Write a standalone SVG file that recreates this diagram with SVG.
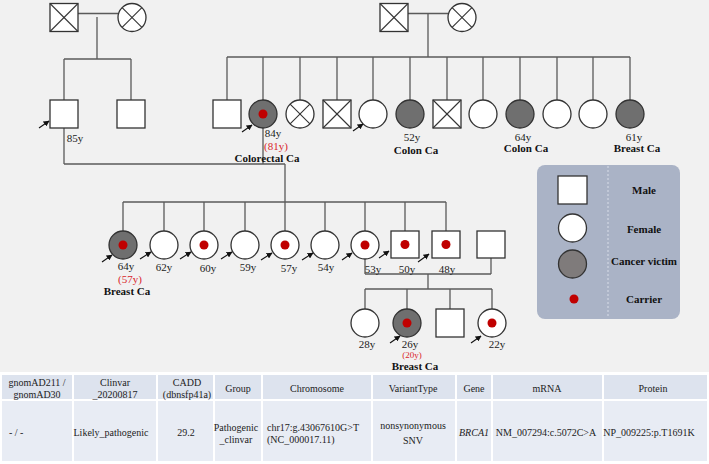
<svg xmlns="http://www.w3.org/2000/svg" width="709" height="464" viewBox="0 0 709 464">
<defs>
<style>
.bg{fill:#f1f1f1}
.ln{stroke:#5a5a5a;stroke-width:1.3;fill:none}
.m{fill:#fff;stroke:#333;stroke-width:1.3}
.f{fill:#fff;stroke:#333;stroke-width:1.3}
.ca{fill:#6f6f6f;stroke:#333;stroke-width:1.3}
.x{stroke:#333;stroke-width:1.1}
.dot{fill:#c00000}
.t{font-family:"Liberation Serif",serif;font-size:11px;fill:#222;text-anchor:middle}
.r{font-family:"Liberation Serif",serif;font-size:11px;fill:#d9262b;text-anchor:middle}
.b{font-family:"Liberation Serif",serif;font-size:11px;font-weight:bold;fill:#111;text-anchor:middle}
.lg{font-family:"Liberation Serif",serif;font-size:11px;font-weight:bold;fill:#111;text-anchor:middle}
.tb{font-family:"Liberation Serif",serif;font-size:10px;fill:#222;text-anchor:middle}
.arr{stroke:#111;stroke-width:1.1;marker-end:url(#ah)}
.hd{fill:#dde3ee}
.dt{fill:#e8ecf4}
</style>
<marker id="ah" viewBox="0 0 10 10" refX="9" refY="5" markerWidth="6" markerHeight="6" markerUnits="userSpaceOnUse" orient="auto">
<path d="M0,0 L10,5 L0,10 z" fill="#111"/>
</marker>
</defs>
<rect x="0" y="0" width="709" height="372" class="bg"/>
<rect x="0" y="372" width="709" height="92" fill="#ffffff"/>

<g id="connectors">
<line class="ln" x1="78" y1="13.5" x2="118" y2="13.5"/>
<line class="ln" x1="97" y1="17" x2="97" y2="59"/>
<line class="ln" x1="64" y1="59" x2="131" y2="59"/>
<line class="ln" x1="64" y1="59" x2="64" y2="100"/>
<line class="ln" x1="131" y1="59" x2="131" y2="100"/>
<line class="ln" x1="408" y1="13.5" x2="448" y2="13.5"/>
<line class="ln" x1="428" y1="13.5" x2="428" y2="57"/>
<line class="ln" x1="227" y1="57" x2="630" y2="57"/>
<line class="ln" x1="227" y1="57" x2="227" y2="100"/>
<line class="ln" x1="263" y1="57" x2="263" y2="100"/>
<line class="ln" x1="300" y1="57" x2="300" y2="100"/>
<line class="ln" x1="337" y1="57" x2="337" y2="100"/>
<line class="ln" x1="373" y1="57" x2="373" y2="100"/>
<line class="ln" x1="410" y1="57" x2="410" y2="100"/>
<line class="ln" x1="447" y1="57" x2="447" y2="100"/>
<line class="ln" x1="483" y1="57" x2="483" y2="100"/>
<line class="ln" x1="520" y1="57" x2="520" y2="100"/>
<line class="ln" x1="557" y1="57" x2="557" y2="100"/>
<line class="ln" x1="593" y1="57" x2="593" y2="100"/>
<line class="ln" x1="630" y1="57" x2="630" y2="100"/>
<line class="ln" x1="64" y1="128" x2="64" y2="164"/>
<line class="ln" x1="263" y1="128" x2="263" y2="164"/>
<line class="ln" x1="64" y1="164" x2="285" y2="164"/>
<line class="ln" x1="285" y1="164" x2="285" y2="202"/>
<line class="ln" x1="123" y1="202" x2="446" y2="202"/>
<line class="ln" x1="123" y1="202" x2="123" y2="231"/>
<line class="ln" x1="164" y1="202" x2="164" y2="231"/>
<line class="ln" x1="204" y1="202" x2="204" y2="231"/>
<line class="ln" x1="245" y1="202" x2="245" y2="231"/>
<line class="ln" x1="285" y1="202" x2="285" y2="231"/>
<line class="ln" x1="325" y1="202" x2="325" y2="231"/>
<line class="ln" x1="365" y1="202" x2="365" y2="231"/>
<line class="ln" x1="405" y1="202" x2="405" y2="231"/>
<line class="ln" x1="446" y1="202" x2="446" y2="231"/>
<line class="ln" x1="365" y1="259" x2="365" y2="274"/>
<line class="ln" x1="491" y1="258" x2="491" y2="274"/>
<line class="ln" x1="365" y1="274" x2="491" y2="274"/>
<line class="ln" x1="428" y1="274" x2="428" y2="289"/>
<line class="ln" x1="365" y1="289" x2="492" y2="289"/>
<line class="ln" x1="365" y1="289" x2="365" y2="309"/>
<line class="ln" x1="407" y1="289" x2="407" y2="309"/>
<line class="ln" x1="450" y1="289" x2="450" y2="309"/>
<line class="ln" x1="492" y1="289" x2="492" y2="309"/>
</g>

<g id="gen1-left-father"><rect class="m" x="50" y="3.5" width="28" height="28"/><line class="x" x1="50" y1="3.5" x2="78" y2="31.5"/><line class="x" x1="78" y1="3.5" x2="50" y2="31.5"/></g>
<g id="gen1-left-mother"><circle class="f" cx="132" cy="17.5" r="14"/><line class="x" x1="122.1" y1="7.6" x2="141.9" y2="27.4"/><line class="x" x1="141.9" y1="7.6" x2="122.1" y2="27.4"/></g>
<g id="gen1-right-father"><rect class="m" x="380" y="3.5" width="28" height="28"/><line class="x" x1="380" y1="3.5" x2="408" y2="31.5"/><line class="x" x1="408" y1="3.5" x2="380" y2="31.5"/></g>
<g id="gen1-right-mother"><circle class="f" cx="462" cy="17.5" r="14"/><line class="x" x1="452.1" y1="7.6" x2="471.9" y2="27.4"/><line class="x" x1="471.9" y1="7.6" x2="452.1" y2="27.4"/></g>

<g id="g2-85y"><rect class="m" x="50" y="100" width="28" height="28"/><line class="arr" x1="39" y1="128" x2="49" y2="121"/><text class="t" x="75" y="142">85y</text></g>
<g id="g2-brother"><rect class="m" x="117" y="100" width="28" height="28"/></g>
<g id="g2-s1"><rect class="m" x="213" y="100" width="28" height="28"/></g>
<g id="g2-84y"><circle class="ca" cx="263" cy="114" r="14"/><circle class="dot" cx="263" cy="114" r="4.5"/><line class="arr" x1="242" y1="132" x2="252" y2="125"/><text class="t" x="273" y="137">84y</text><text class="r" x="276" y="150">(81y)</text><text class="b" x="267" y="162">Colorectal Ca</text></g>
<g id="g2-s3"><circle class="f" cx="300" cy="114" r="14"/><line class="x" x1="290.1" y1="104.1" x2="309.9" y2="123.9"/><line class="x" x1="309.9" y1="104.1" x2="290.1" y2="123.9"/></g>
<g id="g2-s4"><rect class="m" x="323" y="100" width="28" height="28"/><line class="x" x1="323" y1="100" x2="351" y2="128"/><line class="x" x1="351" y1="100" x2="323" y2="128"/></g>
<g id="g2-s5"><circle class="f" cx="373" cy="114" r="14"/><line class="arr" x1="353" y1="131" x2="363" y2="124"/></g>
<g id="g2-52y"><circle class="ca" cx="410" cy="114" r="14"/><text class="t" x="412" y="141">52y</text><text class="b" x="416" y="154">Colon Ca</text></g>
<g id="g2-s7"><rect class="m" x="433" y="100" width="28" height="28"/><line class="x" x1="433" y1="100" x2="461" y2="128"/><line class="x" x1="461" y1="100" x2="433" y2="128"/></g>
<g id="g2-s8"><circle class="f" cx="483" cy="114" r="14"/></g>
<g id="g2-64y"><circle class="ca" cx="520" cy="114" r="14"/><text class="t" x="523" y="141">64y</text><text class="b" x="526" y="152">Colon Ca</text></g>
<g id="g2-s10"><circle class="f" cx="557" cy="114" r="14"/></g>
<g id="g2-s11"><circle class="f" cx="593" cy="114" r="14"/></g>
<g id="g2-61y"><circle class="ca" cx="630" cy="114" r="14"/><text class="t" x="634" y="141">61y</text><text class="b" x="637" y="152">Breast Ca</text></g>

<g id="g3-64y"><circle class="ca" cx="123" cy="245" r="14"/><circle class="dot" cx="123" cy="245" r="4.5"/><line class="arr" x1="102" y1="262" x2="112" y2="255"/><text class="t" x="126" y="270">64y</text><text class="r" x="130" y="283">(57y)</text><text class="b" x="127" y="295">Breast Ca</text></g>
<g id="g3-62y"><circle class="f" cx="164" cy="245" r="14"/><line class="arr" x1="140" y1="259" x2="151" y2="252"/><text class="t" x="164" y="271">62y</text></g>
<g id="g3-60y"><circle class="f" cx="204" cy="245" r="14"/><circle class="dot" cx="204" cy="245" r="4.5"/><line class="arr" x1="180" y1="259" x2="191" y2="252"/><text class="t" x="208" y="272">60y</text></g>
<g id="g3-59y"><circle class="f" cx="245" cy="245" r="14"/><line class="arr" x1="221" y1="259" x2="232" y2="252"/><text class="t" x="248" y="271">59y</text></g>
<g id="g3-57y"><circle class="f" cx="285" cy="245" r="14"/><circle class="dot" cx="285" cy="245" r="4.5"/><line class="arr" x1="261" y1="260" x2="272" y2="253"/><text class="t" x="289" y="272">57y</text></g>
<g id="g3-54y"><circle class="f" cx="325" cy="245" r="14"/><line class="arr" x1="302" y1="260" x2="313" y2="253"/><text class="t" x="326" y="271">54y</text></g>
<g id="g3-53y"><circle class="f" cx="365" cy="245" r="14"/><circle class="dot" cx="365" cy="245" r="4.5"/><line class="arr" x1="342" y1="260" x2="352" y2="253"/><text class="t" x="373" y="273">53y</text></g>
<g id="g3-50y"><rect class="m" x="391" y="231" width="28" height="27"/><circle class="dot" cx="405" cy="244.5" r="4.5"/><line class="arr" x1="379" y1="258" x2="389" y2="251"/><text class="t" x="407" y="273">50y</text></g>
<g id="g3-48y"><rect class="m" x="432" y="231" width="28" height="27"/><circle class="dot" cx="446" cy="244.5" r="4.5"/><line class="arr" x1="418" y1="262" x2="429" y2="254"/><text class="t" x="447" y="273">48y</text></g>
<g id="g3-spouse"><rect class="m" x="477" y="231" width="28" height="27"/></g>

<g id="g4-28y"><circle class="f" cx="365" cy="323" r="14"/><text class="t" x="367" y="348">28y</text></g>
<g id="g4-26y"><circle class="ca" cx="407" cy="323" r="14"/><circle class="dot" cx="407" cy="323" r="4.5"/><line class="arr" x1="390" y1="343" x2="400" y2="336"/><text class="t" x="410" y="348">26y</text><text class="r" x="412" y="358" style="font-size:9px">(20y)</text><text class="b" x="415" y="370">Breast Ca</text></g>
<g id="g4-son"><rect class="m" x="436" y="309" width="28" height="28"/></g>
<g id="g4-22y"><circle class="f" cx="492" cy="323" r="14"/><circle class="dot" cx="492" cy="323" r="4.5"/><line class="arr" x1="471" y1="343" x2="481" y2="336"/><text class="t" x="497" y="348">22y</text></g>

<g id="legend">
<rect x="537" y="165" width="143" height="154" rx="8" fill="#aab3c6"/>
<line x1="608" y1="166" x2="608" y2="318" stroke="#d8dde8" stroke-width="1" stroke-dasharray="2,2"/>
<rect class="m" x="558" y="176" width="29" height="28"/>
<circle class="f" cx="572.5" cy="228" r="14"/>
<circle cx="572.5" cy="264" r="14" fill="#7f7b7b" stroke="#333" stroke-width="1.3"/>
<circle class="dot" cx="574" cy="299" r="4.5"/>
<text class="lg" x="644" y="194">Male</text>
<text class="lg" x="644" y="233">Female</text>
<text class="lg" x="644" y="265">Cancer victim</text>
<text class="lg" x="644" y="303">Carrier</text>
</g>

<g id="table">
<rect class="hd" x="2" y="375" width="70" height="24"/>
<rect class="hd" x="74" y="375" width="82" height="24"/>
<rect class="hd" x="158" y="375" width="55" height="24"/>
<rect class="hd" x="215" y="375" width="46" height="24"/>
<rect class="hd" x="263" y="375" width="108" height="24"/>
<rect class="hd" x="373" y="375" width="82" height="24"/>
<rect class="hd" x="457" y="375" width="34" height="24"/>
<rect class="hd" x="493" y="375" width="109" height="24"/>
<rect class="hd" x="604" y="375" width="103" height="24"/>
<rect class="dt" x="2" y="401" width="70" height="60"/>
<rect class="dt" x="74" y="401" width="82" height="60"/>
<rect class="dt" x="158" y="401" width="55" height="60"/>
<rect class="dt" x="215" y="401" width="46" height="60"/>
<rect class="dt" x="263" y="401" width="108" height="60"/>
<rect class="dt" x="373" y="401" width="82" height="60"/>
<rect class="dt" x="457" y="401" width="34" height="60"/>
<rect class="dt" x="493" y="401" width="109" height="60"/>
<rect class="dt" x="604" y="401" width="103" height="60"/>
<text class="tb" x="37" y="386">gnomAD211 /</text>
<text class="tb" x="37" y="398">gnomAD30</text>
<text class="tb" x="115" y="386">Clinvar</text>
<text class="tb" x="115" y="398">_20200817</text>
<text class="tb" x="187" y="386">CADD</text>
<text class="tb" x="187" y="398">(dbnsfp41a)</text>
<text class="tb" x="238" y="392">Group</text>
<text class="tb" x="317" y="392">Chromosome</text>
<text class="tb" x="413" y="392">VariantType</text>
<text class="tb" x="474" y="392">Gene</text>
<text class="tb" x="547" y="392">mRNA</text>
<text class="tb" x="653" y="392">Protein</text>
<text class="tb" x="9" y="436" style="text-anchor:start">- / -</text>
<text class="tb" x="111" y="436">Likely_pathogenic</text>
<text class="tb" x="186" y="436">29.2</text>
<text class="tb" x="236" y="431">Pathogenic</text>
<text class="tb" x="236" y="443">_clinvar</text>
<text class="tb" x="267" y="431" style="text-anchor:start">chr17:g.43067610G&gt;T</text>
<text class="tb" x="267" y="443" style="text-anchor:start">(NC_000017.11)</text>
<text class="tb" x="413" y="429">nonsynonymous</text>
<text class="tb" x="413" y="444">SNV</text>
<text class="tb" x="474" y="436" style="font-style:italic">BRCA1</text>
<text class="tb" x="546" y="436">NM_007294:c.5072C&gt;A</text>
<text class="tb" x="649" y="436">NP_009225:p.T1691K</text>
</g>
</svg>
